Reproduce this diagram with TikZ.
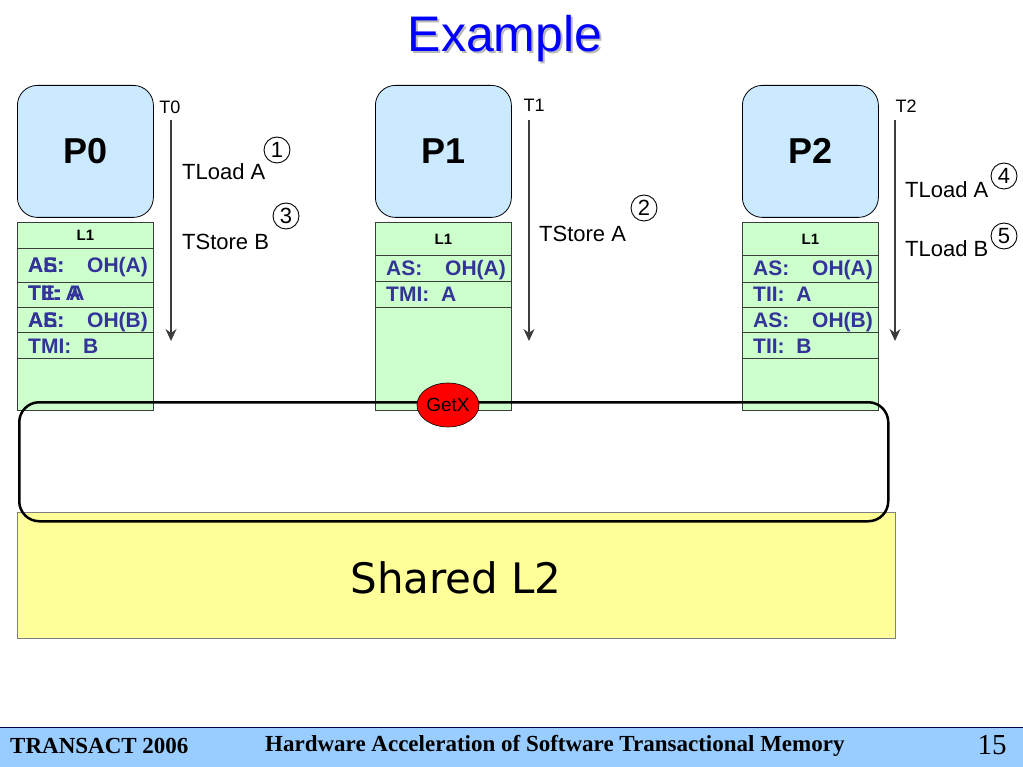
\documentclass[tikz,border=0pt]{standalone}
\usepackage{fontspec}
\setmainfont{Liberation Sans}
\newfontfamily\tms{Liberation Serif}
\newfontfamily\djv{DejaVu Sans}
\usetikzlibrary{shapes.geometric,arrows.meta}
\definecolor{procblue}{RGB}{204,234,255}
\definecolor{cachegreen}{RGB}{204,255,204}
\definecolor{ltwoyellow}{RGB}{255,255,153}
\definecolor{footblue}{RGB}{153,204,255}
\definecolor{rowtext}{RGB}{51,51,153}
\definecolor{titleblue}{RGB}{0,0,255}
\definecolor{linegray}{RGB}{60,60,60}
\tikzset{
  proc/.style={draw=black, line width=0.8pt, fill=procblue, rounded corners=20pt,
    minimum width=136pt, minimum height=132pt, anchor=north west, inner sep=0pt,
    font=\bfseries\fontsize{36}{36}\selectfont},
  cachebox/.style={draw=linegray, line width=0.8pt, fill=cachegreen, anchor=north west,
    minimum width=136pt, inner sep=0pt},
  l1lab/.style={font=\bfseries\fontsize{15}{15}\selectfont, inner sep=0pt},
  rowtxt/.style={font=\bfseries\fontsize{21}{21}\selectfont, text=rowtext, inner sep=0pt, anchor=base west},
  tlab/.style={font=\fontsize{18}{18}\selectfont, inner sep=0pt},
  optxt/.style={font=\fontsize{22}{22}\selectfont, inner sep=0pt, anchor=west},
  circnum/.style={circle, draw=black, line width=0.9pt, minimum size=26pt, inner sep=0pt,
    font=\fontsize{22}{22}\selectfont},
  tline/.style={draw=linegray, line width=1.1pt, -{Stealth[length=12pt,width=11pt,inset=4pt]}},
  foottxt/.style={font=\tms\bfseries\fontsize{23}{23}\selectfont, inner sep=0pt, anchor=west},
}
\begin{document}
\begin{tikzpicture}[x=1pt,y=-1pt]
\useasboundingbox (0,0) rectangle (1023,767);
\fill[white] (0,0) rectangle (1023,767);

% title
\node[font=\fontsize{50}{50}\selectfont, text=gray!55, inner sep=0pt] (titleshadow) at (507,41) {Example};
\node[font=\fontsize{50}{50}\selectfont, text=titleblue, inner sep=0pt] (title) at (505,39) {Example};

% shared L2
\node[draw=gray, line width=0.6pt, fill=ltwoyellow, anchor=north west, minimum width=878pt,
  minimum height=126pt, inner sep=0pt] (l2) at (17,512) {};
\node[font=\djv\fontsize{42}{42}\selectfont, inner sep=0pt] (l2txt) at (456,578) {Shared L2};

% processors
\node[proc] (p0) at (17,85) {P0};
\node[proc] (p1) at (375,85) {P1};
\node[proc] (p2) at (742,85) {P2};

% P0 cache
\node[cachebox, minimum height=188pt] (c0) at (17,222) {};
\node[cachebox, minimum height=26pt, fill=none] (c0h) at (17,222) {};
\node[cachebox, minimum height=34pt, fill=none] (c0r1) at (17,248) {};
\node[cachebox, minimum height=25pt, fill=none] (c0r2) at (17,282) {};
\node[cachebox, minimum height=25pt, fill=none] (c0r3) at (17,307) {};
\node[cachebox, minimum height=26pt, fill=none] (c0r4) at (17,332) {};
\node[l1lab] (c0l) at (c0h.center) {L1};
\node[rowtxt] (c0a1) at (28,273) {AS:};
\node[rowtxt] (c0a1b) at (28,273) {AE:};
\node[rowtxt] (c0a2) at (87,273) {OH(A)};
\node[rowtxt] (c0b1) at (28,301) {TII: A};
\node[rowtxt] (c0b2) at (28,301) {TE: \hspace{1.5pt}A};
\node[rowtxt] (c0c1) at (28,327) {AS:};
\node[rowtxt] (c0c1b) at (28,327) {AE:};
\node[rowtxt] (c0c2) at (87,327) {OH(B)};
\node[rowtxt] (c0d1) at (28,353) {TMI:\ \ B};

% P1 cache
\node[cachebox, minimum height=188pt] (c1) at (375,222) {};
\node[cachebox, minimum height=33pt, fill=none] (c1h) at (375,222) {};
\node[cachebox, minimum height=26pt, fill=none] (c1r1) at (375,255) {};
\node[cachebox, minimum height=26pt, fill=none] (c1r2) at (375,281) {};
\node[l1lab] (c1l) at (c1h.center) {L1};
\node[rowtxt] (c1a1) at (386,276) {AS:};
\node[rowtxt] (c1a2) at (445,276) {OH(A)};
\node[rowtxt] (c1b1) at (386,302) {TMI:\ \ A};

% P2 cache
\node[cachebox, minimum height=188pt] (c2) at (742,222) {};
\node[cachebox, minimum height=33pt, fill=none] (c2h) at (742,222) {};
\node[cachebox, minimum height=27pt, fill=none] (c2r1) at (742,255) {};
\node[cachebox, minimum height=25pt, fill=none] (c2r2) at (742,282) {};
\node[cachebox, minimum height=25pt, fill=none] (c2r3) at (742,307) {};
\node[cachebox, minimum height=26pt, fill=none] (c2r4) at (742,332) {};
\node[l1lab] (c2l) at (c2h.center) {L1};
\node[rowtxt] (c2a1) at (753,276) {AS:};
\node[rowtxt] (c2a2) at (812,276) {OH(A)};
\node[rowtxt] (c2b1) at (753,302) {TII:\ \ A};
\node[rowtxt] (c2c1) at (753,327) {AS:};
\node[rowtxt] (c2c2) at (812,327) {OH(B)};
\node[rowtxt] (c2d1) at (753,353) {TII:\ \ B};

% interconnect
\node[draw=black, line width=2.5pt, rounded corners=20pt, anchor=north west,
  minimum width=869pt, minimum height=119pt, inner sep=0pt] (bus) at (18,401) {};
\node[ellipse, draw=black, line width=0.6pt, fill=red, minimum width=62pt, minimum height=44pt,
  inner sep=0pt, font=\fontsize{19}{19}\selectfont, text=black] (getx) at (448,405) {GetX};

% thread timelines
\node[tlab] (t0) at (170,107) {T0};
\node[tlab] (t1) at (534,105) {T1};
\node[tlab] (t2) at (906,106) {T2};
\coordinate (t0s) at (171,120); \coordinate (t0e) at (171,341);
\coordinate (t1s) at (529,120); \coordinate (t1e) at (529,341);
\coordinate (t2s) at (895,120); \coordinate (t2e) at (895,341);
\draw[tline] (t0s) -- (t0e);
\draw[tline] (t1s) -- (t1e);
\draw[tline] (t2s) -- (t2e);

% operations
\node[optxt] (op1) at (182,172) {TLoad A};
\node[circnum] (n1) at (277,150) {1};
\node[optxt] (op3) at (182,242) {TStore B};
\node[circnum] (n3) at (286,216) {3};
\node[optxt] (op2) at (539,234) {TStore A};
\node[circnum] (n2) at (644,208) {2};
\node[optxt] (op4) at (905,190) {TLoad A};
\node[circnum] (n4) at (1004,176) {4};
\node[optxt] (op5) at (905,249) {TLoad B};
\node[circnum] (n5) at (1004,236) {5};

% footer
\node[fill=footblue, draw=none, anchor=north west, minimum width=1023pt, minimum height=40pt, inner sep=0pt] (foot) at (0,727) {};
\draw[draw=black!70!blue, line width=1pt] (foot.north west) -- (foot.north east);
\node[foottxt] (f1) at (10,746) {TRANSACT 2006};
\node[foottxt] (f2) at (265,746) {Hardware Acceleration of Software Transactional Memory};
\node[font=\tms\fontsize{29}{29}\selectfont, inner sep=0pt] (f3) at (992,745) {15};
\end{tikzpicture}
\end{document}
